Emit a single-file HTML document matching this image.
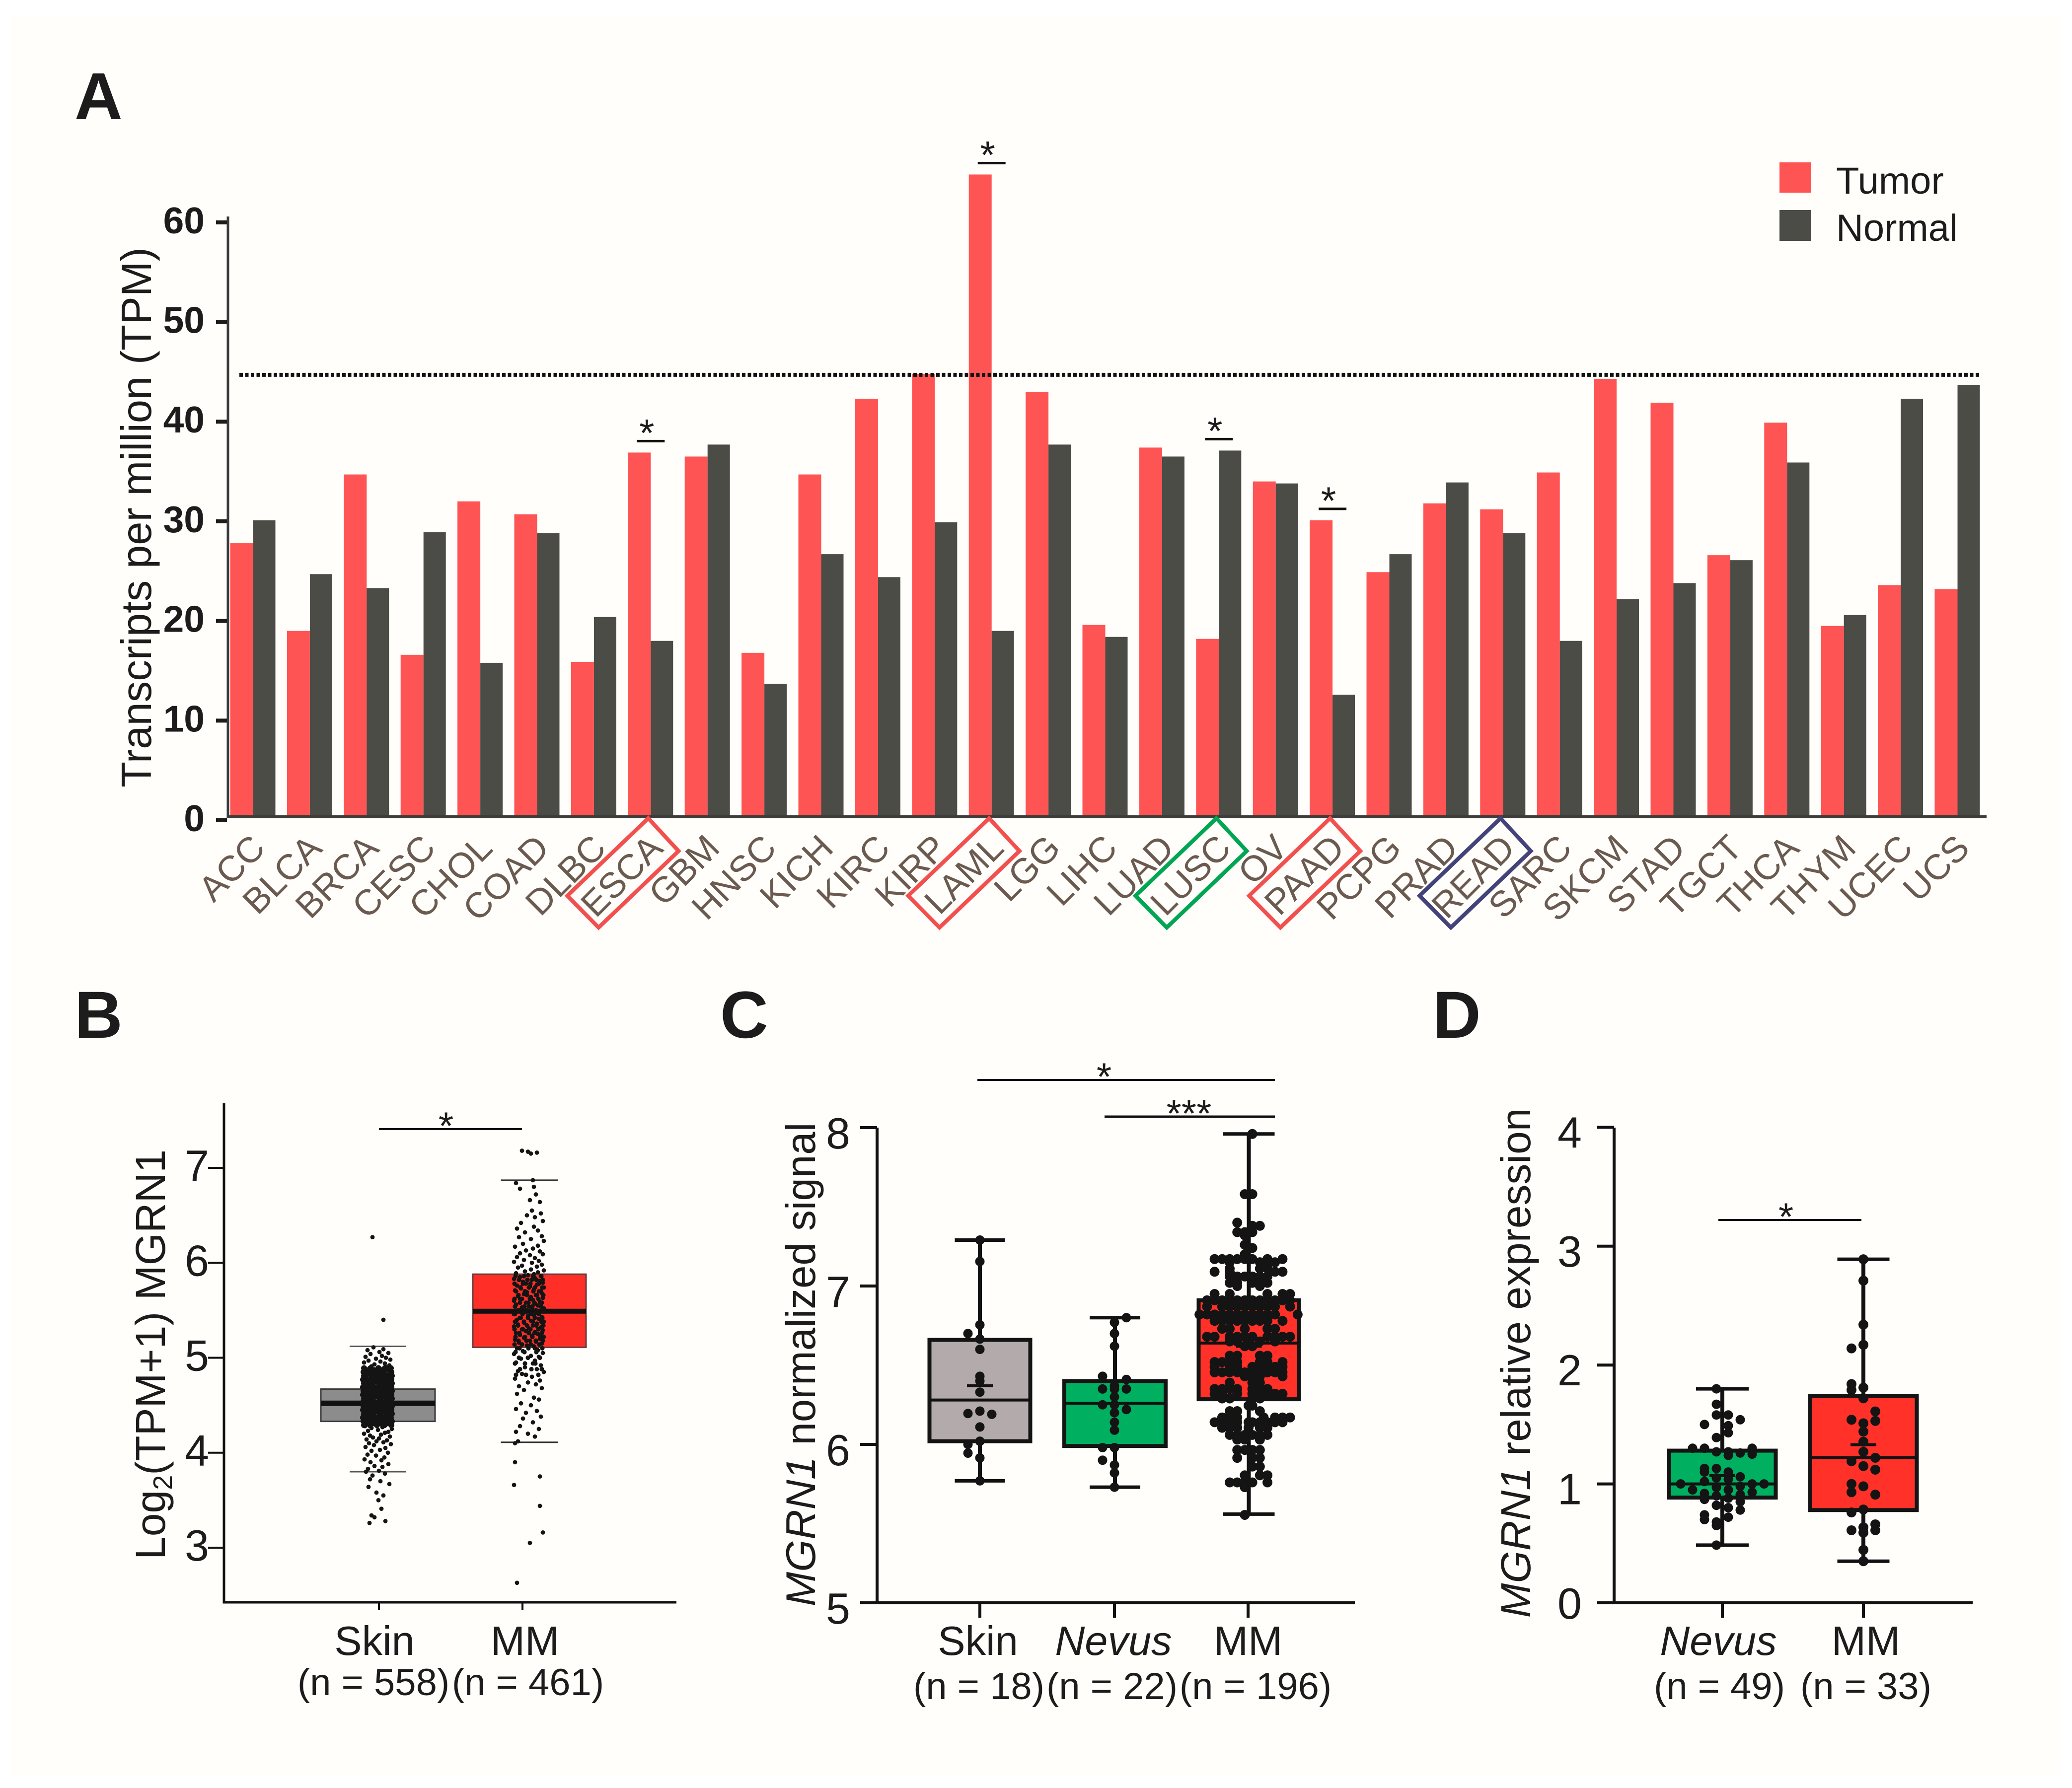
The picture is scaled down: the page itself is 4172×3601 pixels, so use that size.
<!DOCTYPE html>
<html lang="en">
<head>
<meta charset="utf-8">
<title>MGRN1 expression panels</title>
<style>
html,body{margin:0;padding:0;background:#fff;}
svg{display:block;font-family:"Liberation Sans",Arial,sans-serif;}
text{fill:#1c1c1c;}
</style>
</head>
<body>
<svg id="figure" xmlns="http://www.w3.org/2000/svg" width="4172" height="3601" viewBox="0 0 4172 3601">
<rect x="22" y="30" width="4128" height="3545" fill="#FFFEFB"/>
<text x="150" y="240" font-size="134" font-weight="bold">A</text>
<text x="150" y="2090" font-size="134" font-weight="bold">B</text>
<text x="1450" y="2090" font-size="134" font-weight="bold">C</text>
<text x="2885" y="2090" font-size="134" font-weight="bold">D</text>
<g id="panelA"></g>
<g id="panelB"></g>
<g id="panelC"></g>
<g id="panelD"></g>
<text transform="translate(304,1042) rotate(-90)" text-anchor="middle" font-size="85" fill="#2a2a2a">Transcripts per million (TPM)</text>
<rect x="3593" y="327" width="63" height="61" fill="#FF5454" transform="translate(-10,0)"/>
<text x="3697" y="390" font-size="76">Tumor</text>
<rect x="3583" y="423" width="63" height="62" fill="#4C4C47"/>
<text x="3697" y="485" font-size="76">Normal</text>
<text transform="translate(332,2728) rotate(-90)" text-anchor="middle" font-size="84">Log<tspan font-size="54" dy="14">2</tspan><tspan dy="-14">(TPM+1) MGRN1</tspan></text>
<text x="754" y="3333" text-anchor="middle" font-size="83">Skin</text>
<text x="1057" y="3333" text-anchor="middle" font-size="83">MM</text>
<text x="752" y="3414" text-anchor="middle" font-size="76">(n = 558)</text>
<text x="1063" y="3414" text-anchor="middle" font-size="76">(n = 461)</text>
<text transform="translate(1641,2748) rotate(-90)" text-anchor="middle" font-size="83.5"><tspan font-style="italic">MGRN1</tspan> normalized signal</text>
<text x="1969" y="3333" text-anchor="middle" font-size="83">Skin</text>
<text x="2242" y="3333" text-anchor="middle" font-size="83" font-style="italic">Nevus</text>
<text x="2513" y="3333" text-anchor="middle" font-size="83">MM</text>
<text x="1971" y="3422" text-anchor="middle" font-size="76">(n = 18)</text>
<text x="2239" y="3422" text-anchor="middle" font-size="76">(n = 22)</text>
<text x="2528" y="3422" text-anchor="middle" font-size="76">(n = 196)</text>
<text transform="translate(3081,2745) rotate(-90)" text-anchor="middle" font-size="84"><tspan font-style="italic">MGRN1</tspan> relative expression</text>
<text x="3460" y="3333" text-anchor="middle" font-size="83" font-style="italic">Nevus</text>
<text x="3757" y="3333" text-anchor="middle" font-size="83">MM</text>
<text x="3462" y="3422" text-anchor="middle" font-size="76">(n = 49)</text>
<text x="3757" y="3422" text-anchor="middle" font-size="76">(n = 33)</text>
</svg>
<script>
/* Panel A data */
const categories=["ACC","BLCA","BRCA","CESC","CHOL","COAD","DLBC","ESCA","GBM","HNSC","KICH","KIRC","KIRP","LAML","LGG","LIHC","LUAD","LUSC","OV","PAAD","PCPG","PRAD","READ","SARC","SKCM","STAD","TGCT","THCA","THYM","UCEC","UCS"];
const tumorValues=[27.8,19,34.7,16.6,32,30.7,15.9,36.9,36.5,16.8,34.7,42.3,44.8,64.8,43,19.6,37.4,18.2,34,30.1,24.9,31.8,31.2,34.9,44.3,41.9,26.6,39.9,19.5,23.6,23.2];
const normalValues=[30.1,24.7,23.3,28.9,15.8,28.8,20.4,18,37.7,13.7,26.7,24.4,29.9,19,37.7,18.4,36.5,37.1,33.8,12.6,26.7,33.9,28.8,18,22.2,23.8,26.1,35.9,20.6,42.3,43.7];
const tickLabelsA=[0,10,20,30,40,50,60];
const thresholdA=[44.7];
const starredA=["ESCA","LAML","LUSC","PAAD"];
const boxedA=[["ESCA","#F2504F"],["LAML","#F2504F"],["LUSC","#00A651"],["PAAD","#F2504F"],["READ","#43437A"]];

/* Panel B data: [low whisker, q1, median, q3, high whisker] */
const bSkinStats=[3.8,4.33,4.52,4.67,5.12];
const bMmStats=[4.11,5.11,5.49,5.88,6.87];
const tickLabelsB=[3,4,5,6,7];
const bSkinValues=[
6.27,5.4,5.11,5.09,5.08,5.06,5.05,5.04,5.02,5.01,5.0,4.99,
4.98,4.97,4.96,4.95,4.94,4.93,4.92,4.91,4.9,4.9,
4.28,4.27,4.26,4.25,4.24,4.23,4.22,
4.21,4.2,4.19,4.18,4.17,4.16,4.15,4.14,4.13,4.12,
4.11,4.1,4.09,4.08,4.06,4.05,4.03,4.02,4.0,3.98,
3.97,3.95,3.93,3.92,3.9,3.88,3.86,3.85,3.83,3.81,
3.8,3.78,3.76,3.72,3.7,3.67,3.64,3.58,3.55,3.5,3.41,3.34,3.32,3.28,3.26];
const bSkinJitter=[
-10,12,-8,12,-20,4,22,-14,9,-24,17,-3,
26,-18,6,-27,15,-6,24,-12,2,19,
-25,10,-12,29,1,-19,22,
15,-27,7,-15,25,-9,3,-22,19,-2,
12,-17,27,-7,-24,16,5,-12,21,-20,
-3,14,-26,8,-14,22,-6,10,-19,3,
-23,15,-10,-15,6,24,-18,-2,12,2,8,-12,-6,16,-16];
const bSkinCoreRows=[4.89,4.87,4.85,4.83,4.81,4.79,4.77,4.75,4.73,4.71,4.69,4.67,4.65,4.63,4.61,4.59,4.57,4.55,4.53,4.51,4.49,4.47,4.45,4.43,4.41,4.39,4.37,4.35,4.33,4.31,4.29];
const bSkinCoreJitter=[[-27,-14,2,15,27],[-22,-7,8,24],[-28,-15,0,13,28],[-20,-4,10,25],[-27,-12,4,18,29],[-24,-8,7,22],[-29,-15,-1,14,28],[-21,-6,9,24],[-27,-13,3,17,29],[-23,-9,6,21],[-29,-16,0,13,28],[-20,-5,10,25],[-28,-13,2,16,29],[-24,-8,8,22],[-29,-15,-1,14,28],[-22,-6,9,24],[-27,-12,4,18,29],[-23,-9,6,21],[-29,-15,0,13,28],[-21,-5,10,25],[-28,-13,3,17,29],[-24,-8,7,22],[-29,-16,-1,14,28],[-20,-6,9,24],[-27,-12,4,18,29],[-23,-9,6,21],[-29,-15,0,13,27],[-21,-5,10,25],[-28,-13,3,17,29],[-24,-8,7,22],[-27,-15,-1,14,28]];
const bMmValues=[
7.18,7.17,7.16,7.15,6.87,6.84,6.8,6.78,6.72,6.66,6.64,6.55,6.52,6.5,6.48,6.44,6.42,6.38,6.36,6.34,
6.32,6.28,6.27,6.25,6.23,6.2,6.18,6.17,6.15,6.13,6.12,6.1,6.09,6.08,6.06,6.05,6.03,6.02,6.01,6.0,
5.98,5.97,5.96,5.95,5.93,5.92,5.91,5.9,5.89,5.88,5.87,5.86,5.85,5.84,5.83,5.82,5.81,5.8,5.79,5.78,
5.77,5.76,5.75,5.74,5.73,5.72,5.71,5.7,5.69,5.68,5.67,5.66,5.65,5.64,5.63,5.62,5.61,5.6,5.59,5.58,
5.57,5.56,5.55,5.54,5.53,5.52,5.51,5.5,5.49,5.48,5.47,5.46,5.45,5.44,5.43,5.42,5.41,5.4,5.39,5.38,
5.37,5.36,5.35,5.34,5.33,5.32,5.31,5.3,5.29,5.28,5.27,5.26,5.25,5.24,5.23,5.22,5.21,5.2,5.19,5.18,
5.17,5.16,5.15,5.13,5.12,5.1,5.08,5.07,5.05,5.04,5.02,5.01,4.99,4.97,4.95,4.94,4.92,4.9,4.88,4.86,
4.85,4.83,4.8,4.78,4.76,4.74,4.72,4.7,4.68,4.66,4.62,4.58,4.56,4.52,4.5,4.46,4.44,4.42,4.38,4.36,
4.32,4.28,4.25,4.22,4.2,4.17,4.12,4.1,3.9,3.75,3.66,3.44,3.16,3.05,2.63];
const bMmJitter=[
-14,-2,16,4,8,-26,10,-18,14,2,22,6,24,-4,12,28,-16,10,-24,18,
-8,26,-20,4,30,-12,18,-28,8,-6,22,-18,28,2,-24,12,-10,20,-30,6,
26,-14,16,-22,4,30,-8,18,-26,10,-2,24,-18,12,-30,6,22,-12,28,-6,
16,-24,2,30,-16,10,-28,20,-4,26,-10,14,-22,4,28,-18,8,-30,22,-6,
12,-26,18,0,-14,30,6,-20,24,-8,14,-28,10,-2,26,-16,20,-24,4,30,
-10,16,-22,8,-30,24,0,-14,28,-6,12,-26,18,-18,6,30,-10,22,-28,2,
14,-20,26,-4,10,-24,18,-12,28,-30,4,20,-16,12,-26,8,24,-8,16,-22,
30,-14,6,-28,22,-2,14,-20,26,-10,-24,10,20,-16,4,-26,16,-6,24,-12,
8,-18,20,-26,-2,12,-22,-28,-28,22,-30,22,28,2,-24];
const bMmCoreRows=[5.86,5.82,5.78,5.74,5.7,5.66,5.62,5.58,5.54,5.5,5.46,5.42,5.38,5.34,5.3,5.26,5.22,5.18,5.14,5.1,5.06,5.0,4.94,4.88,4.82];
const bMmCoreJitter=[[-27,-10,8,25],[-20,-3,15,28],[-29,-12,3,20],[-17,0,12,27],[-26,-8,9,24],[-21,-4,16,29],[-29,-14,2,19],[-18,-1,11,26],[-28,-9,7,24],[-22,-5,14,29],[-30,-13,4,20],[-18,-2,12,27],[-28,-10,8,25],[-22,-4,15,29],[-29,-12,3,19],[-19,0,11,26],[-27,-8,7,23],[-21,-5,14,28],[-29,-14,4,21],[-19,-1,12,27],[-27,-9,15],[-20,-2,22],[-28,-8,13],[-18,5,26],[-26,-6,19]];

/* Panel C data: [low whisker, q1, median, q3, high whisker, mean] */
const cSkinStats=[5.77,6.02,6.28,6.66,7.29,6.37];
const cNevusStats=[5.73,5.99,6.26,6.40,6.80,6.26];
const cMmStats=[5.56,6.285,6.64,6.91,7.96,6.62];
const tickLabelsC=[5,6,7,8];
const cSkinValues=[7.29,7.155,6.755,6.70,6.665,6.6,6.43,6.40,6.33,6.195,6.21,6.19,6.11,6.02,6.0,5.945,5.915,5.77];
const cSkinSlots=[0,0,0,-1,0,0,0,0,0,-1,0,1,0,0,-1,-1,0,0];
const cNevusValues=[6.80,6.77,6.70,6.62,6.43,6.41,6.37,6.35,6.35,6.35,6.30,6.25,6.25,6.22,6.20,6.14,6.09,5.98,5.98,5.90,5.87,5.82,5.73];
const cNevusSlots=[1,0,0,0,-1,1,0,-1,0,1,0,-1,0,1,0,0,0,-1,0,-1,0,0,0];
const cMmRowValues=[7.96,7.58,7.40,7.38,7.34,7.32,7.26,7.24,7.20,7.17,7.15,7.11,7.09,7.06,7.02,7.0,6.95,6.91,6.87,6.82,6.78,6.73,6.68,6.65,6.62,6.56,6.52,6.49,6.455,6.43,6.39,6.35,6.32,6.29,6.245,6.21,6.17,6.14,6.105,6.06,6.03,5.965,5.915,5.86,5.805,5.76,5.73,5.555];
const cMmRowSlots=[[0.5],[-0.5,0.5],[-1.5],[0.5,1.5],[-1.5,-0.5,0.5],[-0.5],[-0.5],[0,0.5],[-0.5],[-4.5,-3.5,-2.5,-1.5,-0.5,0.5,2.5,4.5],[-2.5,1.5,2.5,3.5],[-2.5,1.5,2.5],[-4.5,-2.5,3.5,4.5],[-2.5,-1.5,-0.5,0.5,1.5,2.5],[-2.5,-1.5,0.5,1.5,2.5],[-1.5,1.5],[-4.5,-2.5,2.5,4.5,5.5],[-5.5,-4.5,-3.5,-2.5,-1.5,-0.5,0.5,1.5,2.5,3.5,4.5,5.5],[-5.5,-3.5,-2.5,-1.5,-0.5,0.5,1.5,2.5,3.5,5.5],[-6.5,-5.5,-4.5,-3.5,-2.5,-1.5,-0.5,0.5,1.5,2.5,3.5,6.5],[-4.5,-3.5,-2.5,-1.5,-0.5,0.5,1.5,2.5,4.5],[-3.5,-2.5,-0.5,2.5,3.5],[-5.5,-4.5,-2.5,-1.5,-0.5,0.5,2.5,3.5,4.5,5.5],[-2.5,-1.5,0,1.5,3.5],[-0.5,0.5],[-2.5,-1.5,1.5,2.5],[-4.5,-3.5,-2.5,-1.5,1.5,2.5,4.5],[-4.5,-2.5,-1.5,0.5,1.5,2.5,3.5,4.5],[-4.5,-3.5,-2.5,-1.5,-0.5,0.5,1.5,2.5,3.5,4.5],[-0.5,0.5,1.5,4.5],[-2.5,0.5,1.5],[-4.5,-3.5,-2.5,-1.5,0.5,1.5,2.5],[-4.5,-3.5,-1.5,0.5,1.5,2.5,3.5,4.5],[-3.5,-2.5,0.5,1.5],[0,0.5],[-2.5,-1.5,1.5],[-3.5,-2.5,-1.5,2,3.5,4.5,5.5],[-4.5,-3.5,-2.5,-1.5,0,0.5,1.5,2.5,3.5,4.5],[-3.5,-2.5,-1.5,0,1.5,2.5],[-2.5,-1.5,-0.5,0.5,1.5,2.5],[-1.5,-0.5,1.5],[-1.5,-0.5,0.5,1.5],[-1.5,0.5,1.5],[0.5,1.5],[-0.5,1.5,2.5],[-2.5,-1.5,-0.5,0.5,2.5],[-0.5],[-0.5]];

/* Panel D data: [low whisker, q1, median, q3, high whisker, mean] */
const dNevusStats=[0.485,0.885,1.0,1.28,1.80,1.07];
const dMmStats=[0.35,0.78,1.22,1.74,2.89,1.33];
const tickLabelsD=[0,1,2,3,4];
const dNevusValues=[1.8,1.67,1.58,1.58,1.54,1.5,1.49,1.43,1.39,1.3,1.3,1.3,1.29,1.27,1.27,1.26,1.25,1.24,1.13,1.13,1.1,1.1,1.06,1.05,1.04,1.02,1.0,1.0,1.0,0.98,0.97,0.95,0.95,0.93,0.92,0.91,0.9,0.88,0.87,0.85,0.82,0.8,0.78,0.74,0.72,0.7,0.68,0.65,0.485];
const dNevusSlots=[-0.5,-0.5,-0.5,0.5,1.5,-1.5,0.5,0.5,-0.5,-2.5,-1.5,2.5,2.5,-0.5,0.5,1.5,2.5,0.5,-1.5,-0.5,-1.5,0.5,1.5,-0.5,0.5,-1.5,-3.5,2.5,3.5,1.5,-0.5,-2.5,0.5,2.5,-1.5,1.5,-0.5,0.5,-1.5,1.5,-0.5,0.5,1.5,-1.5,0.5,-1.5,-0.5,-0.5,-0.5];
const dMmValues=[2.89,2.71,2.34,2.17,2.14,1.84,1.79,1.81,1.72,1.61,1.54,1.53,1.51,1.44,1.355,1.27,1.22,1.19,1.15,1.12,1.0,0.98,0.93,0.91,0.785,0.76,0.66,0.635,0.61,0.61,0.59,0.445,0.35];
const dMmSlots=[0,0,0,0,-1,-1,-1,0,0,1,-1,1,0,0,0,0,1,-1,0,1,-1,0,-1,1,0,-1,1,0,-1,1,0,0,0];

/* Axis functions */
const yA=v=>1652-20.07*v;
const xA=i=>463.5+114.4*i;
const yB=v=>3117-191.25*(v-3);
const yC=v=>3228-319*(v-5);
const yD=v=>3228-239.4*v;

const NS="http://www.w3.org/2000/svg";
function mk(tag,parent,attrs,txt){
  const e=document.createElementNS(NS,tag);
  for(const k in attrs)e.setAttribute(k,attrs[k]);
  if(txt!==undefined)e.textContent=txt;
  parent.appendChild(e);
  return e;
}
const A=document.getElementById('panelA');
let el;

/* Panel A bars */
categories.forEach((c,i)=>{
  const tv=Math.min(yA(tumorValues[i]),1645);
  el=mk('rect',A,{x:xA(i),y:tv,width:46,height:1645-tv,fill:'#FF5454'});
  
  
  const nv=Math.min(yA(normalValues[i]),1645);
  el=mk('rect',A,{x:xA(i)+46,y:nv,width:45,height:1645-nv,fill:'#4C4C47'});
  
  
  el=mk('text',A,{transform:'translate('+(xA(i)+74)+',1712) rotate(-45)','text-anchor':'end','font-size':72,style:'fill:#6a5a50'},c);
  
  
});
/* Panel A axes */
el=mk('line',A,{x1:459,x2:459,y1:436,y2:1648,stroke:'#3c3c3c','stroke-width':5});


el=mk('line',A,{x1:457,x2:4000,y1:1645,y2:1645,stroke:'#3c3c3c','stroke-width':6});


tickLabelsA.forEach(t=>{
  el=mk('rect',A,{x:435,y:yA(t)-4,width:22,height:8,fill:'#1c1c1c'});
  
  
  el=mk('text',A,{x:412,y:yA(t)+22,'text-anchor':'end','font-size':75,'font-weight':'bold'},t);
  
  
});
el=mk('line',A,{x1:482,x2:3985,y1:yA(thresholdA[0]),y2:yA(thresholdA[0]),stroke:'#111','stroke-width':8,'stroke-dasharray':'7 4.5'});


/* Panel A significance markers, anchored to the taller bar of each group */
starredA.forEach(c=>{
  const i=categories.indexOf(c);
  const top=yA(Math.max(tumorValues[i],normalValues[i]));
  const cx=xA(i)+46;
  el=mk('line',A,{x1:cx-28,x2:cx+28,y1:top-23,y2:top-23,stroke:'#111','stroke-width':5});
  
  
  el=mk('text',A,{x:cx-8,y:top-13,'text-anchor':'middle','font-size':78},'*');
  
  
});
/* Panel A highlight boxes around labels */
boxedA.forEach(b=>{
  const cx=xA(categories.indexOf(b[0]))+46;
  const pts=[[-5,1648],[56,1714],[-105,1868],[-168,1804]].map(p=>(cx+p[0])+','+p[1]).join(' ');
  el=mk('polygon',A,{points:pts,fill:'none',stroke:b[1],'stroke-width':8});
  
  
});

/* Shared helpers for box panels */
function drawSig(g,x1,x2,y,sw,starX,label,name){
  el=mk('line',g,{x1:x1,x2:x2,y1:y,y2:y,stroke:'#111','stroke-width':sw});
  
  
  el=mk('text',g,{x:starX,y:y+20,'text-anchor':'middle','font-size':78},label);
  
  
}
function drawBox(g,y,s,o){
  const hw=o.w/2;
  if(o.whisker){
    el=mk('line',g,{x1:o.x,x2:o.x,y1:y(s[0]),y2:y(s[4]),stroke:'#111','stroke-width':o.sw});
    
    
  }
  [s[0],s[4]].forEach((v,k)=>{
    el=mk('line',g,{x1:o.x+(o.capDx||0)-o.cap/2,x2:o.x+(o.capDx||0)+o.cap/2,y1:y(v),y2:y(v),stroke:o.capColor||'#111','stroke-width':o.capW});
    
    
  });
  el=mk('rect',g,{x:o.x-hw,y:y(s[3]),width:o.w,height:y(s[1])-y(s[3]),fill:o.fill,stroke:o.stroke,'stroke-width':o.sw});
  
  
  el=mk('line',g,{x1:o.x-hw,x2:o.x+hw,y1:y(s[2]),y2:y(s[2]),stroke:'#111','stroke-width':o.medW});
  
  
  if(s.length>5&&o.mean){
    el=mk('line',g,{x1:o.x-26,x2:o.x+26,y1:y(s[5]),y2:y(s[5]),stroke:'#111','stroke-width':6});
    
    
  }
}
function drawDots(g,y,vals,off,x,step,r,name){
  vals.forEach((v,i)=>{
    el=mk('circle',g,{cx:x+off[i]*step,cy:y(v),r:r,fill:'#141414'});
    
    
  });
}
function drawRows(g,y,rows,offs,x,step,r,name){
  rows.forEach((v,i)=>{
    offs[i].forEach(o=>{
      el=mk('circle',g,{cx:x+o*step,cy:y(v),r:r,fill:'#141414'});
      
      
    });
  });
}
function drawAxes(g,y,ticks,o){
  el=mk('line',g,{x1:o.x,x2:o.x,y1:o.top,y2:o.bottom+o.sw/2,stroke:'#111','stroke-width':o.sw});
  
  
  el=mk('line',g,{x1:o.x,x2:o.right,y1:o.bottom,y2:o.bottom,stroke:'#111','stroke-width':o.sw});
  
  
  ticks.forEach(t=>{
    el=mk('line',g,{x1:o.x-o.tick,x2:o.x,y1:y(t),y2:y(t),stroke:'#111','stroke-width':o.tickW});
    
    
    el=mk('text',g,{x:o.labelX,y:y(t)+(t===0?o.labelDy:(o.labelDyAbove||o.labelDy)),'text-anchor':'end','font-size':o.fs},t);
    
    
  });
  o.xticks.forEach((tx,k)=>{
    el=mk('line',g,{x1:tx,x2:tx,y1:o.bottom,y2:o.bottom+o.xtick,stroke:'#111','stroke-width':o.tickW});
    
    
  });
}

/* Panel B */
const B=document.getElementById('panelB');
drawAxes(B,yB,tickLabelsB,{name:'panel-b',x:451,top:2222,bottom:3227,right:1362,sw:5,tick:32,tickW:4,labelX:421,labelDy:26,fs:88,xticks:[763,1052],xtick:16});
drawBox(B,yB,bSkinStats,{name:'skin',x:761,w:230,fill:'#8C8C8C',stroke:'#3a3a3a',sw:3,medW:11,cap:114,capW:3,capColor:'#555'});
drawBox(B,yB,bMmStats,{name:'mm',x:1066,w:228,fill:'#FF2F27',stroke:'#6a3a3a',sw:3,medW:10,cap:115,capW:3,capColor:'#333'});
drawDots(B,yB,bSkinValues,bSkinJitter,760,1,4.4,'skin');
drawRows(B,yB,bSkinCoreRows,bSkinCoreJitter,760,1,6,'skin');
drawDots(B,yB,bMmValues,bMmJitter,1065,1,4.4,'mm');
drawRows(B,yB,bMmCoreRows,bMmCoreJitter,1065,1,4.6,'mm');
drawSig(B,763,1051,2274,4,898,'*','panel-b-significance');

/* Panel C */
const C=document.getElementById('panelC');
drawAxes(C,yC,tickLabelsC,{name:'panel-c',x:1766,top:2271,bottom:3228,right:2728,sw:6,tick:34,tickW:6,labelX:1712,labelDy:42,fs:88,xticks:[1973,2244,2513],xtick:30});
drawBox(C,yC,cSkinStats,{name:'c-skin',x:1973,w:203,fill:'#B3ABAB',stroke:'#141414',sw:8,medW:6,cap:101,capW:7,whisker:true,mean:true});
drawBox(C,yC,cNevusStats,{name:'c-nevus',x:2245,w:204,fill:'#00B060',stroke:'#141414',sw:8,medW:6,cap:102,capW:7,whisker:true,mean:true});
drawBox(C,yC,cMmStats,{name:'c-mm',x:2514.5,w:202,fill:'#FF3129',stroke:'#141414',sw:8,medW:6,cap:104,capW:7,whisker:true,mean:true});
drawDots(C,yC,cSkinValues,cSkinSlots,1973,24,9.5,'c-skin');
drawDots(C,yC,cNevusValues,cNevusSlots,2244,24,9.5,'c-nevus');
drawRows(C,yC,cMmRowValues,cMmRowSlots,2514,15.2,10,'c-mm');
drawSig(C,1968,2567,2175,4,2223,'*','panel-c-significance-skin-mm');
drawSig(C,2224,2567,2249,5,2394,'***','panel-c-significance-nevus-mm');

/* Panel D */
const D=document.getElementById('panelD');
drawAxes(D,yD,tickLabelsD,{name:'panel-d',x:3250,top:2271,bottom:3228,right:3972,sw:6,tick:34,tickW:6,labelX:3185,labelDy:32,labelDyAbove:41,fs:88,xticks:[3468,3752],xtick:30});
drawBox(D,yD,dNevusStats,{name:'d-nevus',x:3468,w:215,fill:'#00B060',stroke:'#141414',sw:8,medW:6,cap:106,capW:7,whisker:true,mean:true});
drawBox(D,yD,dMmStats,{name:'d-mm',x:3752,w:215,fill:'#FF3129',stroke:'#141414',sw:8,medW:6,cap:105,capW:7,whisker:true,mean:true});
drawDots(D,yD,dNevusValues,dNevusSlots,3468,24,9.5,'d-nevus');
drawDots(D,yD,dMmValues,dMmSlots,3752,24,10,'d-mm');
drawSig(D,3460,3748,2457,4,3596,'*','panel-d-significance');
</script>
</body>
</html>
